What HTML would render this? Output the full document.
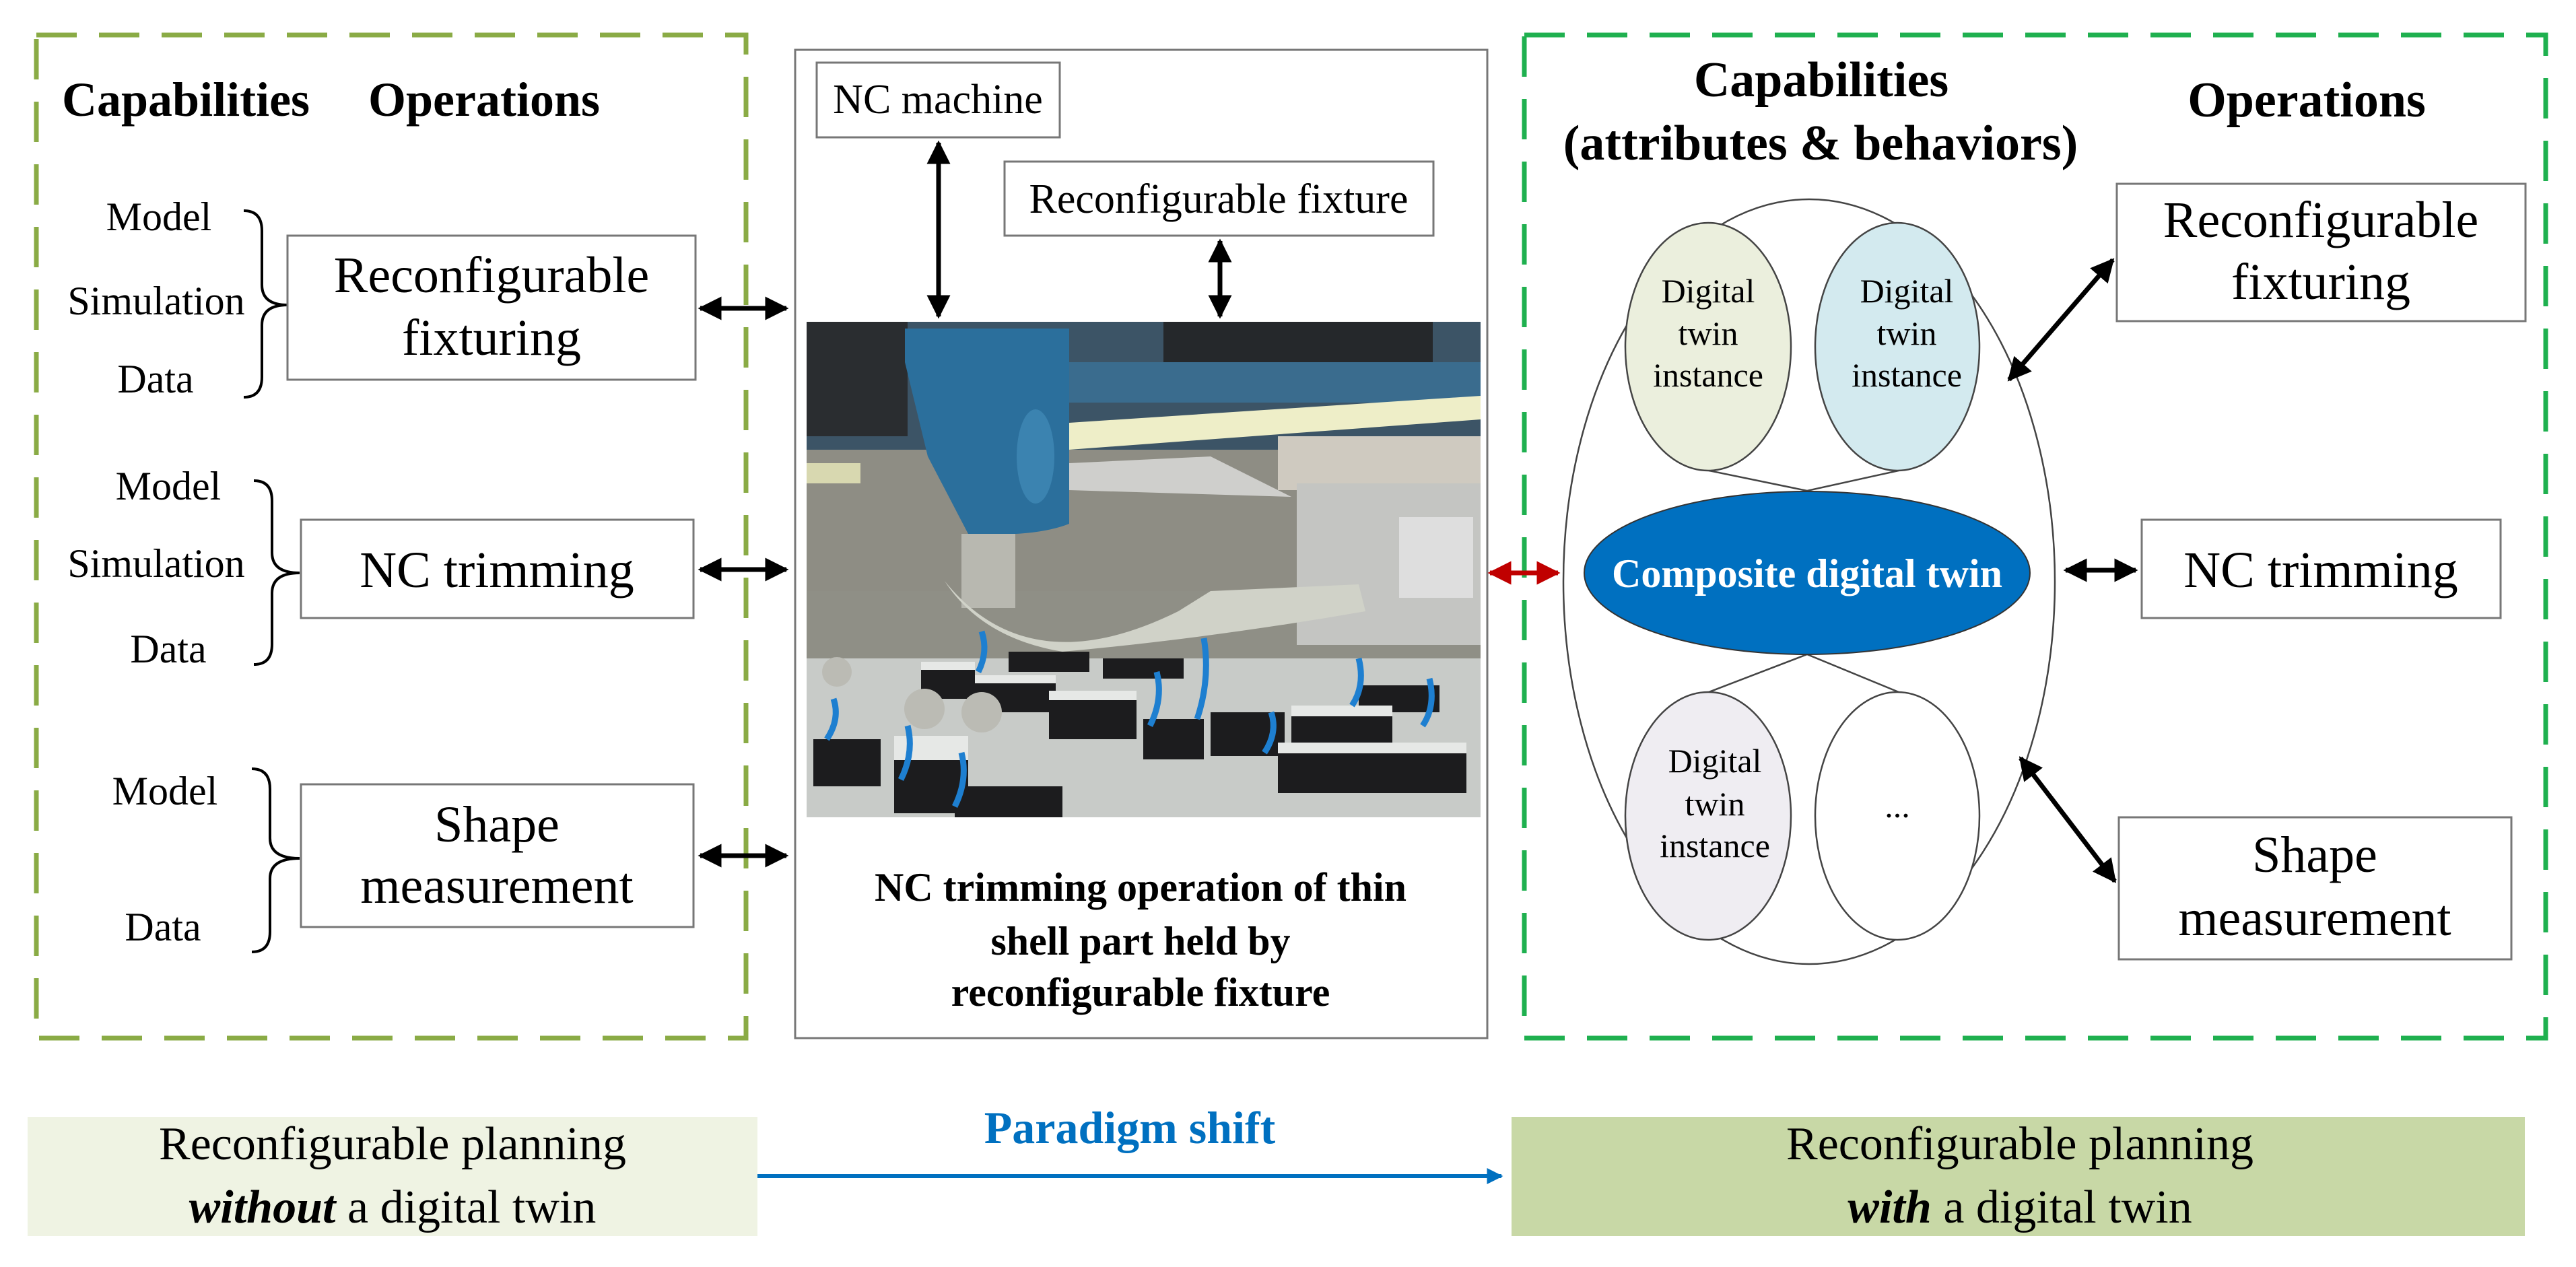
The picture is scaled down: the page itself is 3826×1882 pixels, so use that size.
<!DOCTYPE html>
<html><head><meta charset="utf-8"><style>
html,body{margin:0;padding:0;background:#fff;}
svg{display:block;font-family:"Liberation Serif","DejaVu Serif",serif;}
svg text{font-family:"Liberation Serif","DejaVu Serif",serif;}
</style></head><body>
<svg width="3826" height="1882" viewBox="0 0 3826 1882" xmlns="http://www.w3.org/2000/svg" font-family="Liberation Serif, DejaVu Serif, serif">
<defs>
<marker id="ah" viewBox="0 0 10 10" refX="9" refY="5" markerWidth="5" markerHeight="5" orient="auto-start-reverse" markerUnits="strokeWidth"><path d="M0,0 L10,5 L0,10 z" fill="#000"/></marker>
<marker id="ahr" viewBox="0 0 10 10" refX="9" refY="5" markerWidth="5" markerHeight="5" orient="auto-start-reverse" markerUnits="strokeWidth"><path d="M0,0 L10,5 L0,10 z" fill="#c00000"/></marker>
<marker id="ahb" viewBox="0 0 10 10" refX="9" refY="5" markerWidth="4" markerHeight="6" orient="auto" markerUnits="strokeWidth"><path d="M0,0 L10,5 L0,10 z" fill="#0070c0"/></marker>
<clipPath id="ph"><rect x="0" y="0" width="1001" height="736"/></clipPath>
</defs>

<rect x="54" y="52" width="1054" height="1490" fill="none" stroke="#8aab45" stroke-width="7" stroke-dasharray="60 33"/>
<rect x="2264" y="52" width="1517" height="1490" fill="none" stroke="#1fb04f" stroke-width="7" stroke-dasharray="60 33"/>

<rect x="1181" y="74" width="1028" height="1468" fill="#fff" stroke="#777" stroke-width="3"/>

<text x="92" y="172" font-size="72" font-weight="bold">Capabilities</text>
<text x="547" y="172" font-size="72" font-weight="bold">Operations</text>

<g font-size="60" text-anchor="middle">
<text x="236" y="342">Model</text>
<text x="232" y="467">Simulation</text>
<text x="231" y="583">Data</text>
<text x="250" y="742">Model</text>
<text x="232" y="857">Simulation</text>
<text x="250" y="984">Data</text>
<text x="245" y="1195">Model</text>
<text x="242" y="1397">Data</text>
</g>

<g fill="none" stroke="#000" stroke-width="4">
<path d="M362 313 Q389 313 389 343 L389 423 Q389 453 427 453 Q389 453 389 483 L389 560 Q389 590 362 590"/>
<path d="M377 714 Q404 714 404 744 L404 821 Q404 851 445 851 Q404 851 404 881 L404 957 Q404 987 377 987"/>
<path d="M374 1142 Q401 1142 401 1172 L401 1245 Q401 1275 445 1275 Q401 1275 401 1305 L401 1384 Q401 1414 374 1414"/>
</g>

<g fill="#fff" stroke="#777" stroke-width="3">
<rect x="427" y="350" width="606" height="214"/>
<rect x="447" y="772" width="583" height="146"/>
<rect x="447" y="1165" width="583" height="212"/>
</g>
<g font-size="76" text-anchor="middle">
<text x="730" y="434">Reconfigurable</text>
<text x="730" y="527">fixturing</text>
<text x="738" y="872">NC trimming</text>
<text x="738" y="1250">Shape</text>
<text x="738" y="1341">measurement</text>
</g>

<g stroke="#000" stroke-width="7" marker-start="url(#ah)" marker-end="url(#ah)">
<line x1="1040" y1="458" x2="1168" y2="458"/>
<line x1="1040" y1="846" x2="1168" y2="846"/>
<line x1="1040" y1="1271" x2="1168" y2="1271"/>
<line x1="1394" y1="212" x2="1394" y2="470"/>
<line x1="1812" y1="358" x2="1812" y2="470"/>
</g>

<rect x="1213" y="93" width="361" height="111" fill="#fff" stroke="#777" stroke-width="3"/>
<text x="1393" y="168" font-size="62" text-anchor="middle">NC machine</text>
<rect x="1492" y="240" width="637" height="110" fill="#fff" stroke="#777" stroke-width="3"/>
<text x="1810" y="316" font-size="62" text-anchor="middle">Reconfigurable fixture</text>

<g transform="translate(1198,478)" clip-path="url(#ph)">
<rect x="0" y="0" width="1001" height="736" fill="#8f8f86"/>
<rect x="0" y="0" width="1001" height="190" fill="#3c5466"/>
<rect x="0" y="0" width="150" height="170" fill="#2a2d30"/>
<rect x="530" y="0" width="400" height="60" fill="#25282b"/>
<rect x="390" y="60" width="611" height="60" fill="#3a6c8e"/>
<polygon points="390,150 1001,110 1001,145 390,190" fill="#eeeec8"/>
<rect x="0" y="190" width="1001" height="210" fill="#8e8d84"/>
<rect x="0" y="210" width="80" height="30" fill="#d8d8b0"/>
<rect x="700" y="170" width="301" height="80" fill="#cfcac0"/>
<rect x="728" y="240" width="273" height="240" fill="#c4c5c2"/>
<rect x="880" y="290" width="110" height="120" fill="#dedede"/>
<polygon points="390,210 600,200 720,260 390,250" fill="#cfcfcc"/>
<path d="M146,10 L390,10 L390,300 Q340,320 240,315 L180,200 L146,60 z" fill="#2b6f9c"/>
<ellipse cx="340" cy="200" rx="28" ry="70" fill="#3b83b0"/>
<rect x="230" y="315" width="80" height="110" fill="#b8b8b0"/>
<path d="M205,385 Q330,540 552,430 L600,400 L820,390 L830,430 Q600,470 380,490 Q260,470 205,385 z" fill="#d0d2c8"/>
<rect x="0" y="500" width="1001" height="236" fill="#c8cbc8"/>
<g fill="#1c1c1e">
<rect x="170" y="515" width="80" height="45"/>
<rect x="250" y="535" width="120" height="45"/>
<rect x="360" y="560" width="130" height="60"/>
<rect x="500" y="590" width="90" height="60"/>
<rect x="600" y="580" width="110" height="65"/>
<rect x="720" y="585" width="150" height="60"/>
<rect x="700" y="640" width="280" height="60"/>
<rect x="10" y="620" width="100" height="70"/>
<rect x="130" y="650" width="110" height="80"/>
<rect x="220" y="690" width="160" height="50"/>
<rect x="300" y="490" width="120" height="30"/>
<rect x="440" y="500" width="120" height="30"/>
<rect x="820" y="540" width="120" height="40"/>
</g>
<g fill="#e6e8e6">
<rect x="170" y="505" width="80" height="12"/>
<rect x="250" y="525" width="120" height="12"/>
<rect x="360" y="548" width="130" height="14"/>
<rect x="720" y="570" width="150" height="16"/>
<rect x="700" y="625" width="280" height="16"/>
<rect x="130" y="615" width="110" height="36"/>
</g>
<g stroke="#1e7fd0" stroke-width="9" fill="none">
<path d="M260,460 q10,30 -5,60"/><path d="M520,520 q10,40 -10,80"/><path d="M590,470 q10,60 -10,120"/>
<path d="M40,560 q10,30 -10,60"/><path d="M150,600 q10,40 -10,80"/><path d="M230,640 q10,40 -10,80"/>
<path d="M820,500 q10,40 -10,70"/><path d="M925,530 q10,40 -10,70"/><path d="M690,580 q10,30 -10,60"/>
</g>
<g fill="#bbbbb4"><circle cx="175" cy="575" r="30"/><circle cx="260" cy="580" r="30"/><circle cx="45" cy="520" r="22"/></g>
</g>

<g font-size="60" font-weight="bold" text-anchor="middle">
<text x="1694" y="1338">NC trimming operation of thin</text>
<text x="1694" y="1418">shell part held by</text>
<text x="1694" y="1494">reconfigurable fixture</text>
</g>

<line x1="2213" y1="851" x2="2314" y2="851" stroke="#c00000" stroke-width="7" marker-start="url(#ahr)" marker-end="url(#ahr)"/>

<g font-size="74" font-weight="bold" text-anchor="middle">
<text x="2705" y="143">Capabilities</text>
<text x="2704" y="237">(attributes &amp; behaviors)</text>
<text x="3426" y="173">Operations</text>
</g>

<ellipse cx="2687" cy="864" rx="365" ry="568" fill="#fff" stroke="#444" stroke-width="2.5"/>
<g stroke="#444" stroke-width="2.5" fill="none">
<polyline points="2538,699 2684,729 2820,699"/>
<polyline points="2538,1028 2684,972 2820,1028"/>
</g>
<ellipse cx="2537" cy="515" rx="123" ry="184" fill="#ebefdd" stroke="#444" stroke-width="2.5"/>
<ellipse cx="2818" cy="515" rx="122" ry="184" fill="#d3eaef" stroke="#444" stroke-width="2.5"/>
<ellipse cx="2537" cy="1212" rx="123" ry="184" fill="#efedf2" stroke="#444" stroke-width="2.5"/>
<ellipse cx="2818" cy="1212" rx="122" ry="184" fill="#fff" stroke="#444" stroke-width="2.5"/>
<g font-size="50" text-anchor="middle">
<text x="2537" y="449">Digital</text><text x="2537" y="512">twin</text><text x="2537" y="574">instance</text>
<text x="2832" y="449">Digital</text><text x="2832" y="512">twin</text><text x="2832" y="574">instance</text>
<text x="2547" y="1147">Digital</text><text x="2547" y="1211">twin</text><text x="2547" y="1273">instance</text>
<text x="2818" y="1214">...</text>
</g>
<ellipse cx="2684" cy="851" rx="331" ry="121" fill="#0070c0" stroke="#333" stroke-width="2"/>
<text x="2684" y="872" font-size="60" font-weight="bold" fill="#fff" text-anchor="middle">Composite digital twin</text>

<g fill="#fff" stroke="#777" stroke-width="3">
<rect x="3144" y="273" width="607" height="204"/>
<rect x="3181" y="772" width="533" height="146"/>
<rect x="3147" y="1214" width="583" height="211"/>
</g>
<g font-size="76" text-anchor="middle">
<text x="3447" y="352">Reconfigurable</text>
<text x="3447" y="444">fixturing</text>
<text x="3447" y="872">NC trimming</text>
<text x="3438" y="1295">Shape</text>
<text x="3438" y="1389">measurement</text>
</g>
<g stroke="#000" stroke-width="7" marker-start="url(#ah)" marker-end="url(#ah)">
<line x1="2984" y1="564" x2="3138" y2="386"/>
<line x1="3068" y1="847" x2="3172" y2="847"/>
<line x1="3001" y1="1126" x2="3141" y2="1309"/>
</g>

<rect x="41" y="1659" width="1084" height="177" fill="#eff3e3"/>
<rect x="2245" y="1659" width="1505" height="177" fill="#c8d8a6"/>
<g font-size="70" text-anchor="middle">
<text x="583" y="1722">Reconfigurable planning</text>
<text x="583" y="1816"><tspan font-weight="bold" font-style="italic">without</tspan> a digital twin</text>
<text x="3000" y="1722">Reconfigurable planning</text>
<text x="3000" y="1816"><tspan font-weight="bold" font-style="italic">with</tspan> a digital twin</text>
</g>
<text x="1678" y="1698" font-size="68" font-weight="bold" fill="#0070c0" text-anchor="middle">Paradigm shift</text>
<line x1="1125" y1="1747" x2="2230" y2="1747" stroke="#0070c0" stroke-width="6" marker-end="url(#ahb)"/>
</svg>
</body></html>
